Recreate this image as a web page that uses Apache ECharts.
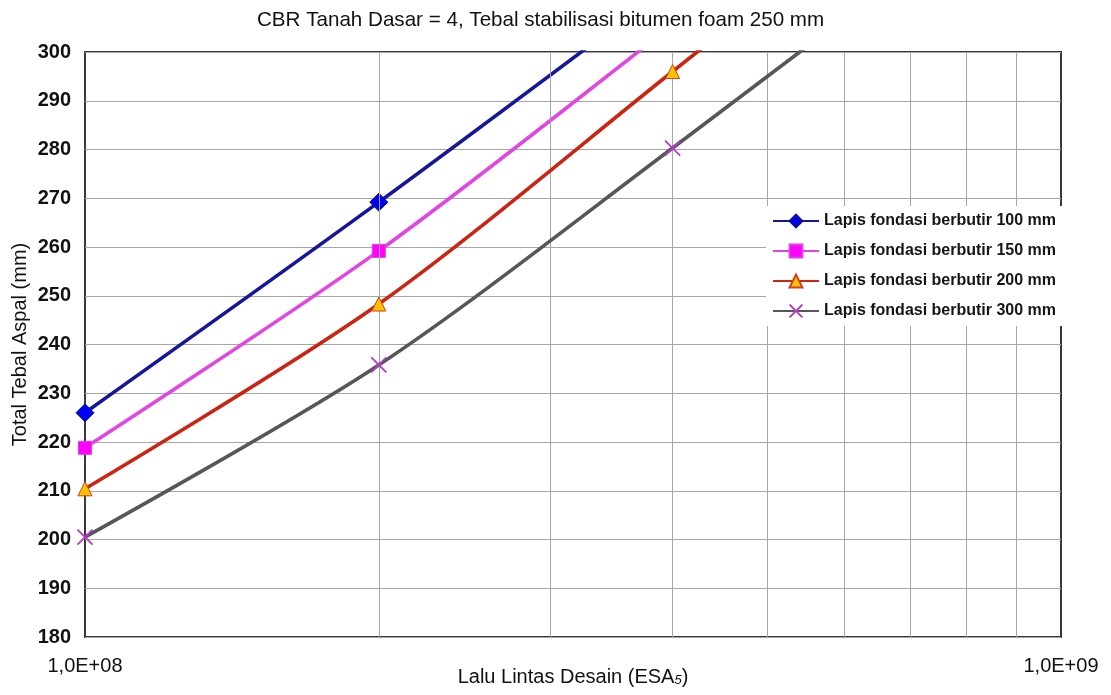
<!DOCTYPE html>
<html>
<head>
<meta charset="utf-8">
<title>CBR Tanah Dasar = 4</title>
<script src="https://cdn.jsdelivr.net/npm/echarts@6/dist/echarts.min.js"></script>
<style>
  html, body { margin: 0; padding: 0; background: #fff; }
  #chart { width: 1111px; height: 695px; }
</style>
</head>
<body>
<div id="chart"></div>
<script>
// Design traffic (ESA5) at which the total asphalt thickness was read
const esaValues = [1e8, 2e8, 4e8, 8e8];

// Total asphalt thickness (mm) for each granular base thickness
const thick100 = [226, 269.2, 314, 359];
const thick150 = [218.8, 259.2, 305.5, 352];
const thick200 = [210.4, 248.3, 296, 344];
const thick300 = [200.5, 235.8, 280.3, 326];

const seriesNames = [
  'Lapis fondasi berbutir 100 mm',
  'Lapis fondasi berbutir 150 mm',
  'Lapis fondasi berbutir 200 mm',
  'Lapis fondasi berbutir 300 mm'
];

// Intermediate decade lines of the log axis
const minorGridESA = [2e8, 3e8, 4e8, 5e8, 6e8, 7e8, 8e8, 9e8];

const FONT = 'Liberation Sans, Arial, sans-serif';

function pairs(ys) {
  return esaValues.map((x, i) => [x, ys[i]]);
}

const crossPath = 'path://M0,0L10,10M10,0L0,10';

const styles = [
  { line: '#16169a', symbol: 'diamond', size: 18, fill: '#0000f0', border: '#10108a', bw: 1 },
  { line: '#e345e3', symbol: 'rect', size: 13, fill: '#ff00ff', border: '#e040e0', bw: 1 },
  { line: '#cc2312', symbol: 'triangle', size: 14, fill: '#ffc000', border: '#d0401a', bw: 1 },
  { line: '#575757', symbol: crossPath, size: 15, fill: 'rgba(0,0,0,0)', border: '#b23cc4', bw: 1.8 }
];

const dataSets = [thick100, thick150, thick200, thick300];

const series = dataSets.map((ys, i) => ({
  name: seriesNames[i],
  type: 'line',
  data: pairs(ys),
  smooth: 0.3,
  symbol: styles[i].symbol,
  symbolSize: styles[i].size,
  showAllSymbol: true,
  clip: true,
  lineStyle: { color: styles[i].line, width: 3.6 },
  itemStyle: {
    color: styles[i].fill,
    borderColor: styles[i].border,
    borderWidth: styles[i].bw
  },
  z: 3 + i
}));

// Vertical grid lines at 2..9 x 10^8
series.push({
  type: 'line',
  data: [],
  silent: true,
  markLine: {
    silent: true,
    symbol: ['none', 'none'],
    label: { show: false },
    lineStyle: { color: '#a6a6a6', width: 1, type: 'solid' },
    emphasis: { disabled: true },
    data: minorGridESA.map(v => ({ xAxis: v }))
  },
  z: 1
});

const chart = echarts.init(document.getElementById('chart'), null, { renderer: 'canvas' });

chart.setOption({
  animation: false,
  backgroundColor: '#ffffff',
  title: {
    text: 'CBR Tanah Dasar = 4, Tebal stabilisasi bitumen foam 250 mm',
    left: 252,
    top: 5,
    textStyle: { fontFamily: FONT, fontSize: 20.6, fontWeight: 'normal', color: '#111' }
  },
  grid: {
    left: 85,
    right: 50,
    top: 52,
    bottom: 58,
    outerBoundsMode: 'none',
    containLabel: false,
    show: true,
    borderColor: '#3a3a3a',
    borderWidth: 2,
    backgroundColor: '#fff'
  },
  legend: {
    orient: 'vertical',
    left: 766,
    top: 206,
    width: 292,
    padding: [6, 6, 6, 6],
    backgroundColor: '#ffffff',
    itemWidth: 46,
    itemHeight: 16,
    itemGap: 12,
    data: seriesNames,
    textStyle: { fontFamily: FONT, fontSize: 16, fontWeight: 'bold', color: '#151515', lineHeight: 18 },
    z: 10
  },
  xAxis: {
    type: 'log',
    logBase: 10,
    min: 1e8,
    max: 1e9,
    name: 'Lalu Lintas Desain (ESA{sub|5})',
    nameLocation: 'middle',
    nameGap: 30,
    nameMoveOverlap: false,
    nameTextStyle: {
      fontFamily: FONT, fontSize: 20, color: '#111',
      rich: { sub: { fontFamily: FONT, fontSize: 13, fontStyle: 'italic', color: '#111', padding: [6, 0, 0, 0] } }
    },
    axisLine: { show: false },
    axisTick: { show: false },
    splitLine: { show: false },
    axisLabel: {
      fontFamily: FONT, fontSize: 20, color: '#111', margin: 19,
      showMinLabel: true, showMaxLabel: true,
      formatter: function (v) {
        const e = Math.round(Math.log10(v));
        return '1,0E+' + (e < 10 ? '0' + e : e);
      }
    }
  },
  yAxis: {
    type: 'value',
    min: 180,
    max: 300,
    interval: 10,
    name: 'Total Tebal Aspal (mm)',
    nameLocation: 'middle',
    nameGap: 55,
    nameMoveOverlap: false,
    nameTextStyle: { fontFamily: FONT, fontSize: 20, color: '#111' },
    axisLine: { show: false },
    axisTick: { show: false },
    splitLine: { lineStyle: { color: '#a6a6a6', width: 1 } },
    axisLabel: { fontFamily: FONT, fontSize: 20, fontWeight: 'bold', color: '#111', margin: 14 }
  },
  series: series
});
</script>
</body>
</html>
